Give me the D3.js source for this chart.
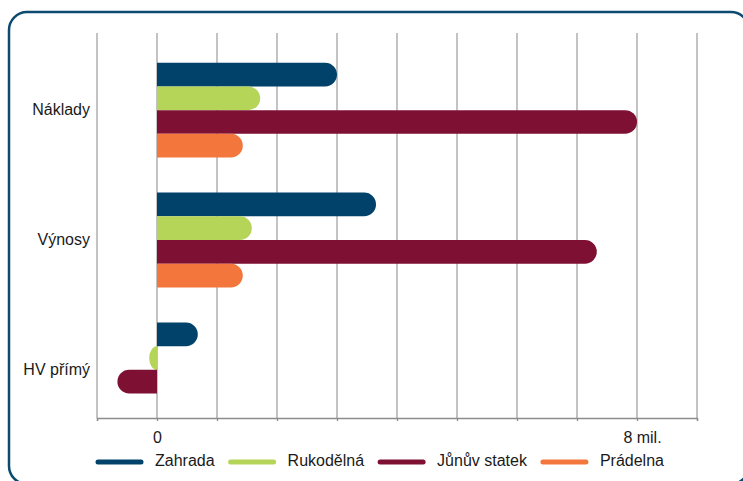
<!DOCTYPE html>
<html>
<head>
<meta charset="utf-8">
<script src="https://cdn.jsdelivr.net/npm/d3@7"></script>
<style>
  body { margin: 0; background: #fff; }
  svg { display: block; font-family: "Liberation Sans", Arial, sans-serif; }
</style>
</head>
<body>
<script>
const w = 743;
const h = 481;

// data (mil. Kč)
const categories = ["Náklady", "Výnosy", "HV přímý"];
const series = ["Zahrada", "Rukodělná", "Jůnův statek", "Prádelna"];
const colors = ["#00426a", "#b5d558", "#7e1133", "#f3763c"];
const zahrada = [3.0, 3.65, 0.68];
const rukodelna = [1.72, 1.58, -0.13];
const junuv = [8.0, 7.33, -0.66];
const pradelna = [1.43, 1.43, 0];
const tickValues = [-1, 0, 1, 2, 3, 4, 5, 6, 7, 8, 9];
const tickLabels = {0: "0", 8: "8 mil."};

const values = [zahrada, rukodelna, junuv, pradelna];

var svg = d3.select("body")
            .append("svg")
            .attr("width", w)
            .attr("height", h);

// rounded frame
svg.append("rect")
   .attr("x", 9)
   .attr("y", 12)
   .attr("width", 740)
   .attr("height", 472)
   .attr("rx", 18)
   .attr("fill", "none")
   .attr("stroke", "#0c4a70")
   .attr("stroke-width", 2.5);

const plotTop = 33, plotBottom = 418;

const xScale = d3.scaleLinear()
                 .domain([-1, 9])
                 .range([97, 697]);

const yScale = d3.scaleBand()
                 .domain(categories)
                 .range([45.2, 434.8])
                 .paddingInner(0.27)
                 .paddingOuter(0.135);

const ySub = d3.scaleBand()
               .domain(series)
               .range([0, yScale.bandwidth()]);

// gridlines
svg.append("g")
   .selectAll("line")
   .data(tickValues)
   .enter()
   .append("line")
   .attr("x1", d => xScale(d))
   .attr("x2", d => xScale(d))
   .attr("y1", plotTop)
   .attr("y2", plotBottom)
   .attr("stroke", "#a3a3a3")
   .attr("stroke-width", 1.3);

// x axis
const xAxis = d3.axisBottom(xScale)
                .tickValues(tickValues)
                .tickSize(3)
                .tickPadding(11)
                .tickFormat(d => tickLabels[d] || "");

const gx = svg.append("g")
   .attr("transform", "translate(0," + plotBottom + ")")
   .call(xAxis);
gx.select(".domain").attr("stroke", "#8c8c8c").attr("stroke-width", 1.3);
gx.selectAll(".tick line").attr("stroke", "#8c8c8c").attr("stroke-width", 1.3);
gx.selectAll(".tick text")
  .attr("font-size", 16)
  .attr("fill", "#1a1a1a")
  .attr("font-family", "Liberation Sans, Arial, sans-serif");
gx.selectAll(".tick text").filter(d => d === 8).attr("dx", 5);

// category labels
svg.append("g")
   .selectAll("text")
   .data(categories)
   .enter()
   .append("text")
   .attr("x", 90)
   .attr("y", d => yScale(d) + yScale.bandwidth() / 2)
   .attr("dy", "0.33em")
   .attr("text-anchor", "end")
   .attr("font-size", 16)
   .attr("fill", "#1a1a1a")
   .text(d => d);

// bar path with rounded outer end
function barPath(v, y0, bh) {
  const x0 = xScale(0);
  const x1 = xScale(v);
  const len = Math.abs(x1 - x0);
  if (len < 0.01) return "";
  const r = Math.min(bh / 2, len);
  const s = x1 >= x0 ? 1 : -1;
  const xr = x1 - s * r;
  return "M" + x0 + "," + y0 +
         "H" + xr +
         "A" + r + "," + (bh / 2) + " 0 0 " + (s > 0 ? 1 : 0) + " " + x1 + "," + (y0 + bh / 2) +
         "A" + r + "," + (bh / 2) + " 0 0 " + (s > 0 ? 1 : 0) + " " + xr + "," + (y0 + bh) +
         "H" + x0 + "Z";
}

const bars = [];
series.forEach((s, i) => {
  categories.forEach((c, j) => {
    bars.push({series: s, cat: c, value: values[i][j], color: colors[i]});
  });
});

svg.append("g")
   .selectAll("path")
   .data(bars)
   .enter()
   .append("path")
   .attr("d", d => barPath(d.value, yScale(d.cat) + ySub(d.series), ySub.bandwidth()))
   .attr("fill", d => d.color);

// legend
const legend = svg.append("g");
let lx = 96;
series.forEach((s, i) => {
  legend.append("line")
        .attr("x1", lx + 2)
        .attr("x2", lx + 45)
        .attr("y1", 462)
        .attr("y2", 462)
        .attr("stroke", colors[i])
        .attr("stroke-width", 5)
        .attr("stroke-linecap", "round");
  const t = legend.append("text")
        .attr("x", lx + 59)
        .attr("y", 466)
        .attr("font-size", 16)
        .attr("fill", "#1a1a1a")
        .text(s);
  lx = lx + 59 + t.node().getComputedTextLength() + 14;
});
</script>
</body>
</html>
